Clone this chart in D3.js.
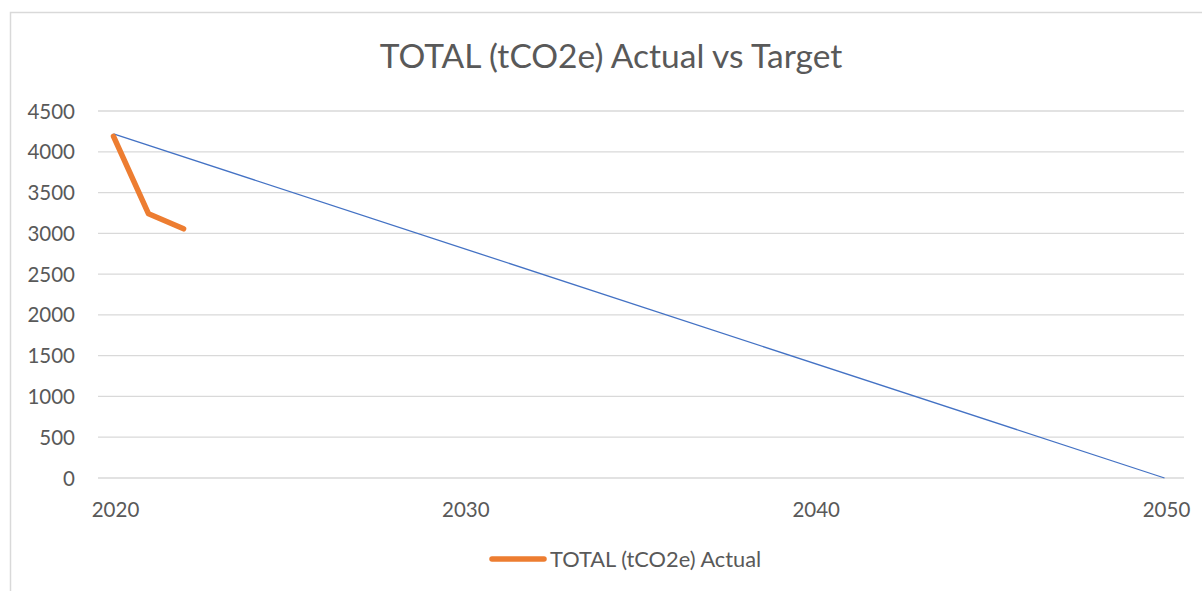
<!DOCTYPE html>
<html>
<head>
<meta charset="utf-8">
<script src="https://cdn.jsdelivr.net/npm/d3@7"></script>
<style>
  html, body { margin: 0; padding: 0; background: #fff; }
  svg { display: block; font-family: Lato, "Open Sans", sans-serif; }
</style>
</head>
<body>
<svg id="chart"></svg>
<script>
// data
const actualYears = [2020, 2021, 2022];
const actualValues = [4190, 3240, 3055];
const targetYears = [2020, 2050];
const targetValues = [4220, 0];
const yTicks = [0, 500, 1000, 1500, 2000, 2500, 3000, 3500, 4000, 4500];
const xTicks = [2020, 2030, 2040, 2050];
const titleText = 'TOTAL (tCO2e) Actual vs Target';
const legendText = 'TOTAL (tCO2e) Actual';

const width = 1202, height = 591;
const textColor = '#595959';

const svg = d3.select('#chart')
  .attr('width', width)
  .attr('height', height);

// chart area frame, right and bottom edges run off the page
svg.append('rect')
  .attr('x', 10.5).attr('y', 12.5)
  .attr('width', width + 20).attr('height', height + 20)
  .attr('fill', '#fff')
  .attr('stroke', '#d9d9d9')
  .attr('stroke-width', 1.5);

const x = d3.scaleLinear().domain([2020, 2050]).range([113.5, 1164.5]);
const y = d3.scaleLinear().domain([0, 4500]).range([478, 111]);

// gridlines
svg.append('g')
  .selectAll('line')
  .data(yTicks)
  .enter()
  .append('line')
  .attr('x1', 98).attr('x2', 1184)
  .attr('y1', d => y(d)).attr('y2', d => y(d))
  .attr('stroke', '#d9d9d9')
  .attr('stroke-width', 1.3);

// y labels
svg.append('g')
  .selectAll('text')
  .data(yTicks)
  .enter()
  .append('text')
  .attr('x', 75)
  .attr('y', d => y(d) + 7.5)
  .attr('text-anchor', 'end')
  .attr('font-size', 20.5)
  .attr('fill', textColor)
  .text(d => d);

// x labels
svg.append('g')
  .selectAll('text')
  .data(xTicks)
  .enter()
  .append('text')
  .attr('x', d => x(d) + 2)
  .attr('y', 516.5)
  .attr('text-anchor', 'middle')
  .attr('font-size', 20.5)
  .attr('fill', textColor)
  .text(d => d);

const line = d3.line()
  .x(d => x(d[0]))
  .y(d => y(d[1]));

// target line (thin blue)
svg.append('path')
  .datum(d3.zip(targetYears, targetValues))
  .attr('d', line)
  .attr('fill', 'none')
  .attr('stroke', '#4472c4')
  .attr('stroke-width', 1.3);

// actual line (thick orange)
svg.append('path')
  .datum(d3.zip(actualYears, actualValues))
  .attr('d', line)
  .attr('fill', 'none')
  .attr('stroke', '#ed7d31')
  .attr('stroke-width', 5.5)
  .attr('stroke-linecap', 'round')
  .attr('stroke-linejoin', 'round');

// title
svg.append('text')
  .attr('x', 611)
  .attr('y', 68)
  .attr('text-anchor', 'middle')
  .attr('font-size', 33.5)
  .attr('fill', textColor)
  .text(titleText);

// legend
const legend = svg.append('g').attr('transform', 'translate(490,559)');
legend.append('line')
  .attr('x1', 2).attr('x2', 54)
  .attr('stroke', '#ed7d31')
  .attr('stroke-width', 5.5)
  .attr('stroke-linecap', 'round');
legend.append('text')
  .attr('x', 60)
  .attr('y', 8)
  .attr('font-size', 21.8)
  .attr('fill', textColor)
  .text(legendText);
</script>
</body>
</html>
